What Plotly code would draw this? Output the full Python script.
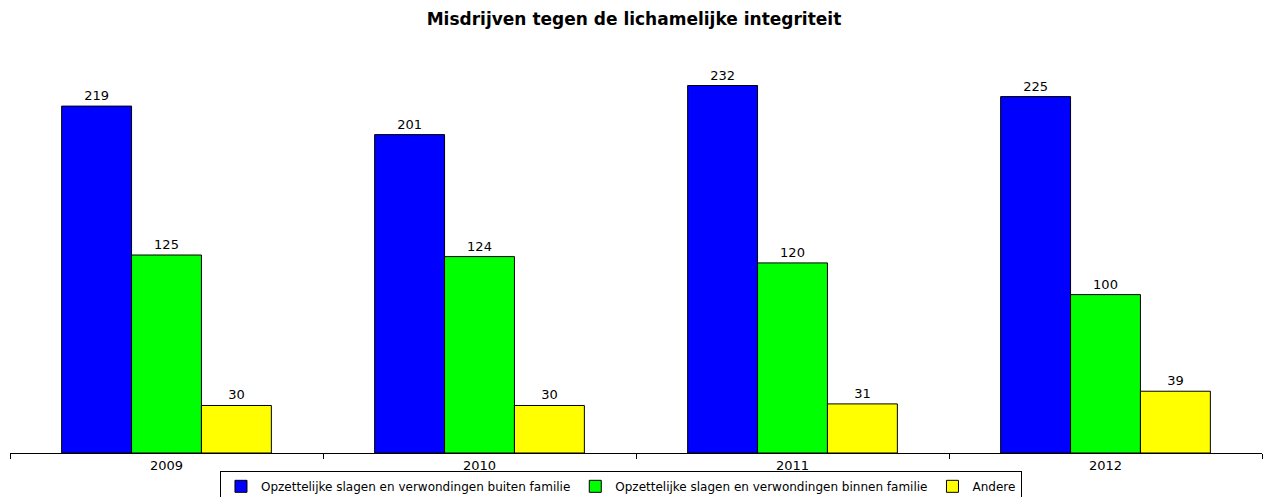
import plotly.graph_objects as go

years = ["2009", "2010", "2011", "2012"]
buiten = [219, 201, 232, 225]
binnen = [125, 124, 120, 100]
andere = [30, 30, 31, 39]

series = [
    ("Opzettelijke slagen en verwondingen buiten familie", buiten, "#0000FF"),
    ("Opzettelijke slagen en verwondingen binnen familie", binnen, "#00FF00"),
    ("Andere", andere, "#FFFF00"),
]

FONT = "DejaVu Sans, Arial"

fig = go.Figure()
for name, vals, col in series:
    fig.add_trace(go.Bar(
        x=years, y=vals, name=name,
        marker=dict(color=col, line=dict(color="#000000", width=1)),
        text=[str(v) for v in vals], textposition="outside",
        textfont=dict(family=FONT, size=13, color="#000000"),
        cliponaxis=False,
    ))

fig.update_layout(
    width=1268, height=497,
    margin=dict(l=10, r=6, t=57, b=44, autoexpand=False),
    paper_bgcolor="white", plot_bgcolor="white",
    barmode="group", bargap=0.33, bargroupgap=0,
    font=dict(family=FONT, size=12, color="#000000"),
    title=dict(text="<b>Misdrijven tegen de lichamelijke integriteit</b>",
               x=0.5, xanchor="center", y=0.962, yanchor="middle",
               font=dict(size=17, family=FONT, color="#000000")),
    showlegend=True,
    legend=dict(orientation="h", x=0.488, xanchor="center", y=-0.045, yanchor="top",
                bordercolor="#000000", borderwidth=1, bgcolor="white",
                font=dict(size=12, family=FONT), itemwidth=30, tracegroupgap=0,
                traceorder="normal", valign="middle"),
)
fig.update_xaxes(showline=True, linecolor="#000000", linewidth=1,
                 ticks="outside", ticklen=5, tickcolor="#000000", tickson="boundaries",
                 showgrid=False, tickfont=dict(size=13, family=FONT), automargin=False)
fig.update_yaxes(visible=False, range=[0, 250], showgrid=False, automargin=False)

fig.write_html("out.html", config={"displayModeBar": False},
               post_script="document.body.style.margin='0';document.body.style.padding='0';")
